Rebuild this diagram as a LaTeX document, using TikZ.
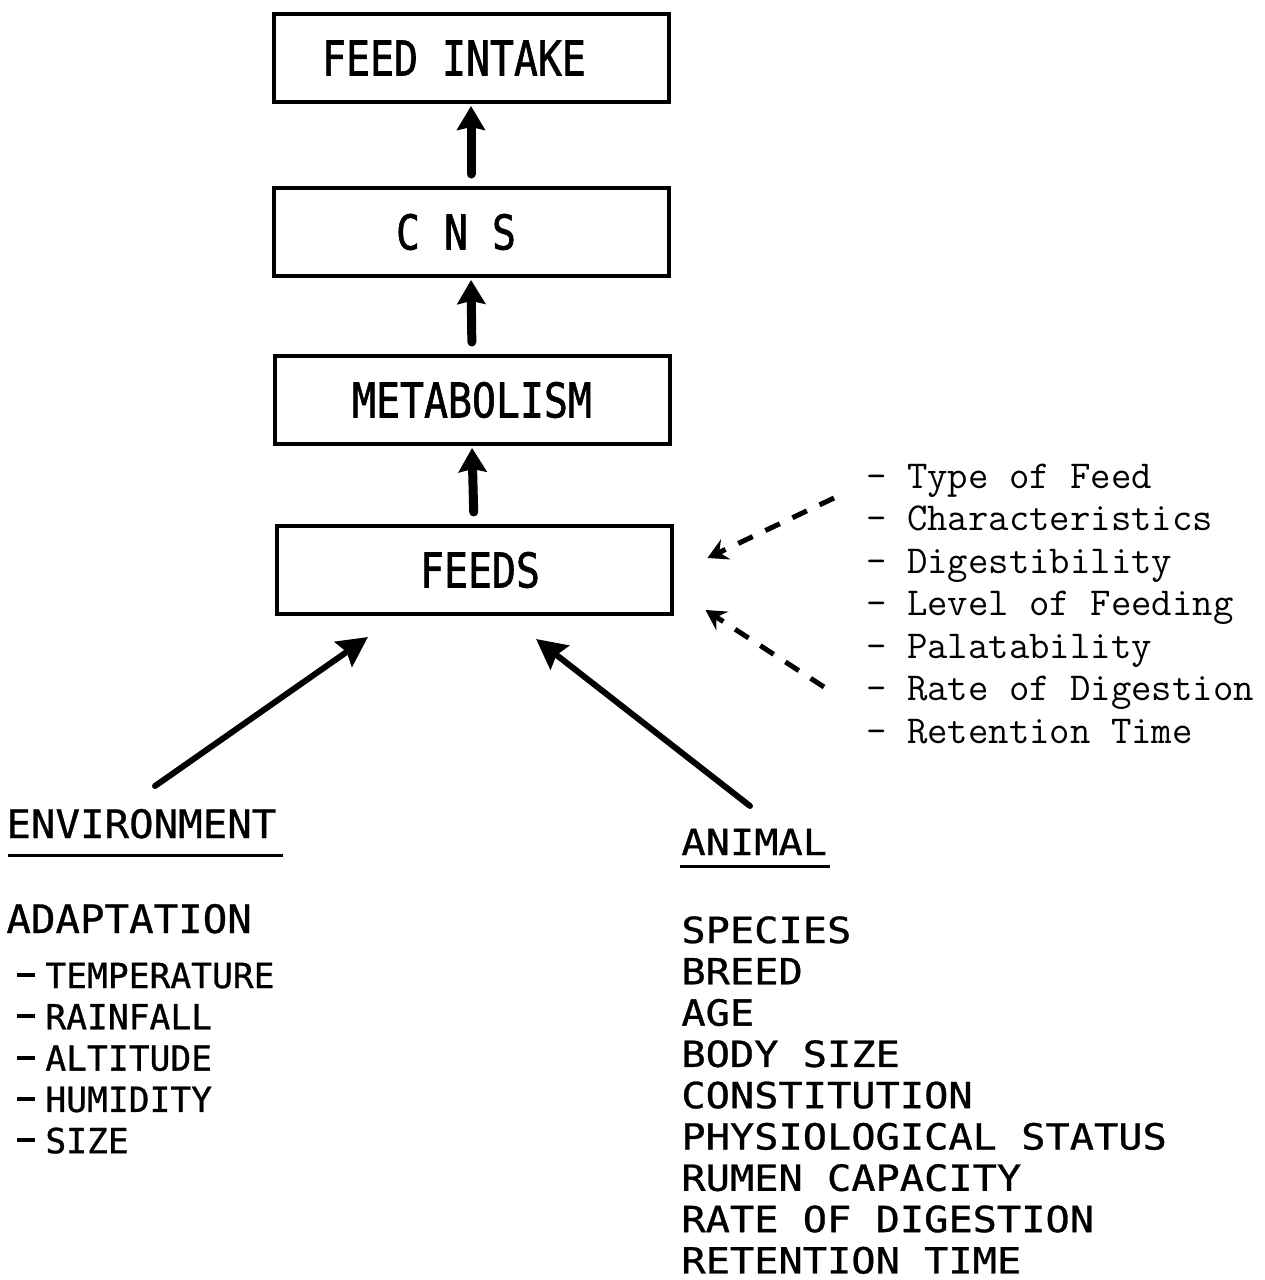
\documentclass[tikz,border=0pt]{standalone}
\usepackage{fontspec}
\newfontfamily\boxfont[FakeStretch=0.83,FakeBold=1.2]{DejaVu Sans Mono}
\newfontfamily\hdfont[FakeStretch=1.04,FakeBold=0.8]{DejaVu Sans Mono}
\newfontfamily\lsfont[FakeStretch=1.0,FakeBold=0.8]{DejaVu Sans Mono}
\newfontfamily\rsfont[FakeStretch=1.12,FakeBold=0.8]{DejaVu Sans Mono}
\usetikzlibrary{arrows.meta,calc}
\newcommand\ldash{\rule[5.5pt]{9pt}{2pt}\hspace{5pt}}
\tikzset{
  fbox/.style={draw, line width=2pt, minimum width=197.5pt, minimum height=44pt, inner sep=0pt,
    font=\boxfont\fontsize{24pt}{28pt}\selectfont},
  uparr/.style={line width=4.5pt, line cap=round, -{Stealth[length=12pt,width=14pt,inset=1.5pt]},
    shorten <=6pt, shorten >=1pt},
  diagarr/.style={line width=3pt, line cap=round, -{Stealth[length=15pt,width=15pt,inset=2pt]}},
  dasharr/.style={line width=2.5pt, dash pattern=on 8pt off 7pt, -{Stealth[length=10pt,width=11pt,inset=3.5pt]}},
  hd/.style={anchor=base west, inner sep=0pt, font=\hdfont\fontsize{19.6pt}{23pt}\selectfont},
  ls/.style={anchor=base west, inner sep=0pt, font=\lsfont\fontsize{17.3pt}{20pt}\selectfont},
  rs/.style={anchor=base west, inner sep=0pt, font=\rsfont\fontsize{18pt}{21pt}\selectfont},
  tw/.style={anchor=base west, inner sep=0pt, font=\ttfamily\fontsize{19.8pt}{23pt}\selectfont\addfontfeatures{FakeBold=1.5}},
  uline/.style={line width=1.5pt}
}
\begin{document}
\begin{tikzpicture}[x=0.5pt,y=-0.5pt]
\path[use as bounding box] (0,0) rectangle (1264,1280);

% boxes
\node[fbox] (fi) at (471,58) {FEED INTAKE\rule{17pt}{0pt}};
\node[fbox] (cns) at (471,232) {C N S\rule{15pt}{0pt}};
\node[fbox] (met) at (472,400) {METABOLISM};
\node[fbox] (feeds) at (474,570) {\rule{6pt}{0pt}FEEDS};

% vertical arrows
\draw[uparr] (cns.north) -- (fi.south);
\draw[uparr] (met.north) -- (cns.south);
\draw[uparr] (feeds.north) -- (met.south);

% environment
\node[hd] (envh) at (6,838) {ENVIRONMENT};
\draw[uline] (8,855) -- (283,855);
\node[hd] (adapt) at (6,933) {ADAPTATION};
\foreach \t [count=\i] in {TEMPERATURE,RAINFALL,ALTITUDE,HUMIDITY,SIZE}
  \node[ls] (env\i) at (17,{988+41.3*(\i-1)}) {\ldash\t};

% animal
\node[rs] (animh) at (681,855) {ANIMAL};
\draw[uline] (680,866) -- (830,866);
\foreach \t [count=\i] in {SPECIES,BREED,AGE,BODY SIZE,CONSTITUTION,PHYSIOLOGICAL STATUS,RUMEN CAPACITY,RATE OF DIGESTION,RETENTION TIME}
  \node[rs] (anim\i) at (681,{943+41.3*(\i-1)}) {\t};

% feed characteristics
\foreach \t [count=\i] in {Type of Feed,Characteristics,Digestibility,Level of Feeding,Palatability,Rate of Digestion,Retention Time}
  \node[tw] (fc\i) at (866,{488+42.5*(\i-1)}) {- \t};

% diagonal arrows
\coordinate (envtail) at (155,786);
\coordinate (animtail) at (750,806);
\coordinate (envtip) at ($(feeds.south)+(-106,21)$);
\coordinate (animtip) at ($(feeds.south)+(62,23)$);
\draw[diagarr] (envtail) -- (envtip);
\draw[diagarr] (animtail) -- (animtip);

% dashed arrows
\coordinate (fctop) at (834,498);
\coordinate (fcbot) at (824,687);
\coordinate (fetipA) at ($(feeds.east)+(34,-12)$);
\coordinate (fetipB) at ($(feeds.east)+(32,40)$);
\draw[dasharr] (fctop) -- (fetipA);
\draw[dasharr] (fcbot) -- (fetipB);
\end{tikzpicture}
\end{document}
